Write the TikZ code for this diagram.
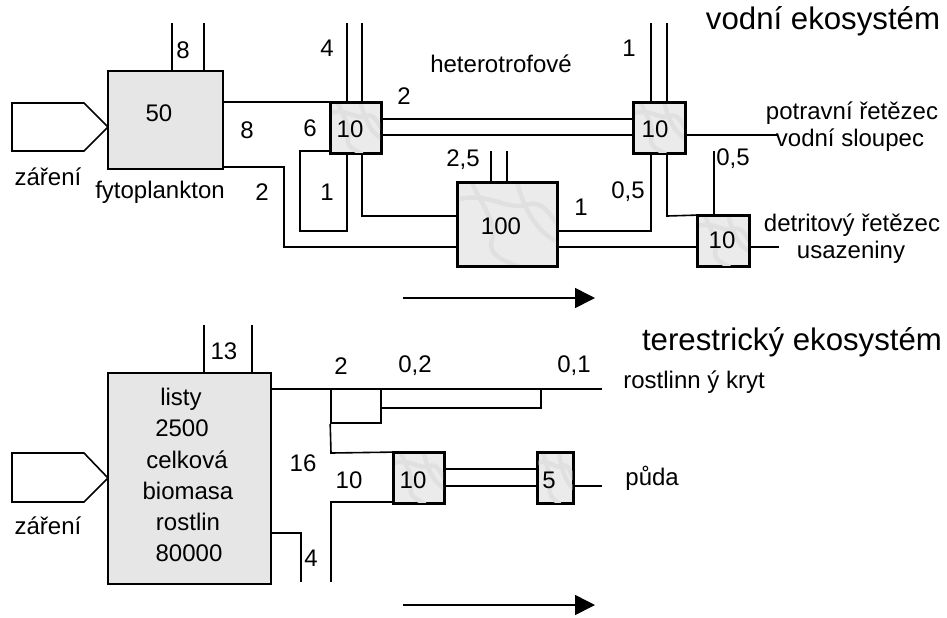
\documentclass[tikz,border=0pt]{standalone}
\usepackage{fontspec}
\setmainfont{Liberation Sans}
\usetikzlibrary{arrows.meta}
\definecolor{grain}{HTML}{E6E6E6}
\definecolor{marble}{HTML}{EBEBEB}
\tikzset{
  ln/.style={line width=0.8pt, line join=miter},
  grainbox/.style={draw, line width=0.9pt, fill=grain, rectangle, inner sep=0pt},
  marblebox/.style={draw, line width=0.9pt, fill=marble, rectangle, inner sep=0pt},
  emptybox/.style={draw, line width=0.8pt, rectangle, inner sep=0pt},
  vein/.style={draw=black!12, line width=2.2pt, line cap=round},
  lbl/.style={font=\fontsize{12}{14}\selectfont, inner sep=0pt},
  ttl/.style={font=\fontsize{15.6}{18}\selectfont, inner sep=0pt},
  flowarrow/.style={line width=0.8pt, -{Triangle[length=10pt,width=10pt]}}
}
% soft marble veins inside a box: #1 node name, #2 half width (px), #3 half height (px)
\newcommand\marbleveins[3]{%
  \begin{scope}[shift={(#1.center)}, xscale=#2/25, yscale=#3/25]
    \clip (-24,-24) rectangle (24,24);
    \draw[vein] (-25,-15) .. controls (-10,-20) and (0,-8) .. (10,-12) .. controls (18,-15) and (22,-5) .. (25,0);
    \draw[vein] (-18,-25) .. controls (-12,-10) and (-5,0) .. (-8,10) .. controls (-10,18) and (-2,22) .. (5,25);
    \draw[vein] (5,-25) .. controls (8,-10) and (15,5) .. (25,10);
  \end{scope}%
  \draw[line width=0.9pt] (#1.south west) rectangle (#1.north east);%
}
\begin{document}
\begin{tikzpicture}[x=0.5pt,y=-0.5pt]
\useasboundingbox (0,0) rectangle (947,617);

% ---------------- aquatic ecosystem ----------------
\draw[ln] (12,103) -- (84,103) -- (108,127) -- (84,151) -- (12,151) -- cycle;
\node[grainbox, minimum width=57.5pt, minimum height=49pt] (fyto) at (165.5,120) {};
\node[marblebox, minimum width=25pt, minimum height=25pt] (ha) at (356,128) {};
\node[marblebox, minimum width=25.5pt, minimum height=25pt] (hb) at (659.5,128) {};
\node[marblebox, minimum width=49.5pt, minimum height=41.5pt] (sed) at (507.5,224.5) {};
\node[marblebox, minimum width=25.5pt, minimum height=25pt] (dc) at (723.5,241) {};
\marbleveins{ha}{25}{25}
\marbleveins{hb}{25.5}{25}
\marbleveins{sed}{49.5}{41.5}
\marbleveins{dc}{25.5}{25}

\coordinate (fytoT1) at (172,23);
\coordinate (fytoT2) at (204,23);
\draw[ln] (fytoT1) -- (fytoT1 |- fyto.north);
\draw[ln] (fytoT2) -- (fytoT2 |- fyto.north);
\draw[ln] (fyto.east |- ha.north) -- (ha.north west);
\draw[ln] (fyto.east |- 0,167) -- (284,167) -- (284,247) -- (sed.west |- 0,247);

\coordinate (haT1) at (347,23);
\coordinate (haT2) at (362,23);
\draw[ln] (haT1) -- (haT1 |- ha.north);
\draw[ln] (haT2) -- (haT2 |- ha.north);
\draw[ln] (ha.east |- 0,119) -- (hb.west |- 0,119);
\draw[ln] (ha.east |- 0,135) -- (hb.west |- 0,135);
\draw[ln] (ha.west |- 0,151) -- (300,151) -- (300,231) -- (347,231) -- (haT1 |- ha.south);
\draw[ln] (haT2 |- ha.south) -- (362,216) -- (sed.west |- 0,216);

\coordinate (sedT1) at (491,151);
\coordinate (sedT2) at (507,151);
\draw[ln] (sedT1) -- (sedT1 |- sed.north);
\draw[ln] (sedT2) -- (sedT2 |- sed.north);
\draw[ln] (sed.east |- 0,231) -- (651,231) -- (651,0 |- hb.south);
\draw[ln] (sed.east |- 0,247) -- (dc.west |- 0,247);

\coordinate (hbT1) at (651,23);
\coordinate (hbT2) at (667,23);
\draw[ln] (hbT1) -- (hbT1 |- hb.north);
\draw[ln] (hbT2) -- (hbT2 |- hb.north);
\coordinate (hbOut) at (777,135);
\draw[ln] (hb.east |- hbOut) -- (hbOut);
\draw[ln] (hbT2 |- hb.south) -- (667,216) -- (dc.north west);

\coordinate (dcT) at (714,151);
\draw[ln] (dcT) -- (dcT |- dc.north);
\coordinate (dcOut) at (779,247);
\draw[ln] (dc.east |- dcOut) -- (dcOut);

\coordinate (arA1) at (403,298);
\coordinate (arA2) at (595,298);
\draw[flowarrow] (arA1) -- (arA2);

% labels (aquatic)
\node[ttl] (tvod) at (823,21) {vodní ekosystém};
\node[lbl] (t8a) at (183,50) {8};
\node[lbl] (t4a) at (327,48) {4};
\node[lbl] (t1a) at (629,48) {1};
\node[lbl] (thet) at (501,64) {heterotrofové};
\node[lbl] (t50) at (159,113) {50};
\node[lbl] (t8b) at (247,130) {8};
\node[lbl] (t6) at (310,128) {6};
\node[lbl] (t10a) at (350,129) {10};
\node[lbl] (t2a) at (404,96) {2};
\node[lbl] (t10b) at (655,129) {10};
\node[lbl] (tpot) at (852,113) {potravní řetězec};
\node[lbl] (tvs) at (850,140) {vodní sloupec};
\node[lbl] (zar1) at (48,177) {záření};
\node[lbl] (tfyt) at (160,192) {fytoplankton};
\node[lbl] (t2b) at (262,192) {2};
\node[lbl] (t1b) at (327,192) {1};
\node[lbl] (t25) at (463,160) {2,5};
\node[lbl] (t100) at (501,226) {100};
\node[lbl] (t1c) at (581,207) {1};
\node[lbl] (t05a) at (628,192) {0,5};
\node[lbl] (t05b) at (733,159) {0,5};
\node[lbl] (t10c) at (722,240) {10};
\node[lbl] (tdet) at (852,225) {detritový řetězec};
\node[lbl] (tusa) at (851,252) {usazeniny};

% ---------------- terrestrial ecosystem ----------------
\draw[ln] (12,453) -- (84,453) -- (108,478) -- (84,502) -- (12,502) -- cycle;
\node[grainbox, minimum width=81.5pt, minimum height=105.5pt] (plant) at (189.5,478.5) {};
\node[emptybox, minimum width=25pt, minimum height=17pt] (cov) at (356,406) {};
\node[marblebox, minimum width=25pt, minimum height=25pt] (sd) at (419,478) {};
\node[marblebox, minimum width=17.5pt, minimum height=25pt] (s5) at (555.5,478) {};
\marbleveins{sd}{25}{25}
\marbleveins{s5}{17.5}{25}

\coordinate (plT1) at (204,325);
\coordinate (plT2) at (252,325);
\draw[ln] (plT1) -- (plT1 |- plant.north);
\draw[ln] (plT2) -- (plT2 |- plant.north);
\coordinate (covOut) at (602,389);
\draw[ln] (plant.east |- covOut) -- (covOut);
\draw[ln] (cov.east |- 0,408) -- (541,408) -- (541,389);
\draw[ln] (cov.south west) -- (331,453) -- (sd.north west);
\draw[ln] (sd.west |- 0,502) -- (331,502) -- (331,582);
\draw[ln] (plant.east |- 0,533) -- (301,533) -- (301,582);
\draw[ln] (sd.east |- 0,469) -- (s5.west |- 0,469);
\draw[ln] (sd.east |- 0,486) -- (s5.west |- 0,486);
\coordinate (s5Out) at (602,486);
\draw[ln] (s5.east |- s5Out) -- (s5Out);

\coordinate (arB1) at (403,605);
\coordinate (arB2) at (595,605);
\draw[flowarrow] (arB1) -- (arB2);

% labels (terrestrial)
\node[ttl] (tter) at (792,342) {terestrický ekosystém};
\node[lbl] (t13) at (224,351) {13};
\node[lbl] (t2c) at (341,366) {2};
\node[lbl] (t02) at (415,366) {0,2};
\node[lbl] (t01) at (574,366) {0,1};
\node[lbl, anchor=west] (trost) at (623,382) {rostlinn ý kryt};
\node[lbl, anchor=base] (pl1) at (181,405.5) {listy};
\node[lbl, anchor=base] (pl2) at (182,436.5) {2500};
\node[lbl, anchor=base] (pl3) at (187,468) {celková};
\node[lbl, anchor=base] (pl4) at (188,499) {biomasa};
\node[lbl, anchor=base] (pl5) at (188,530.5) {rostlin};
\node[lbl, anchor=base] (pl6) at (189,561.5) {80000};
\node[lbl] (t16) at (303,463) {16};
\node[lbl] (t10d) at (349,480) {10};
\node[lbl] (t10e) at (413,480) {10};
\node[lbl] (t5) at (549,480) {5};
\node[lbl, anchor=west] (tpuda) at (625,478) {půda};
\node[lbl] (zar2) at (48,526) {záření};
\node[lbl] (t4b) at (311,558) {4};
\end{tikzpicture}
\end{document}
